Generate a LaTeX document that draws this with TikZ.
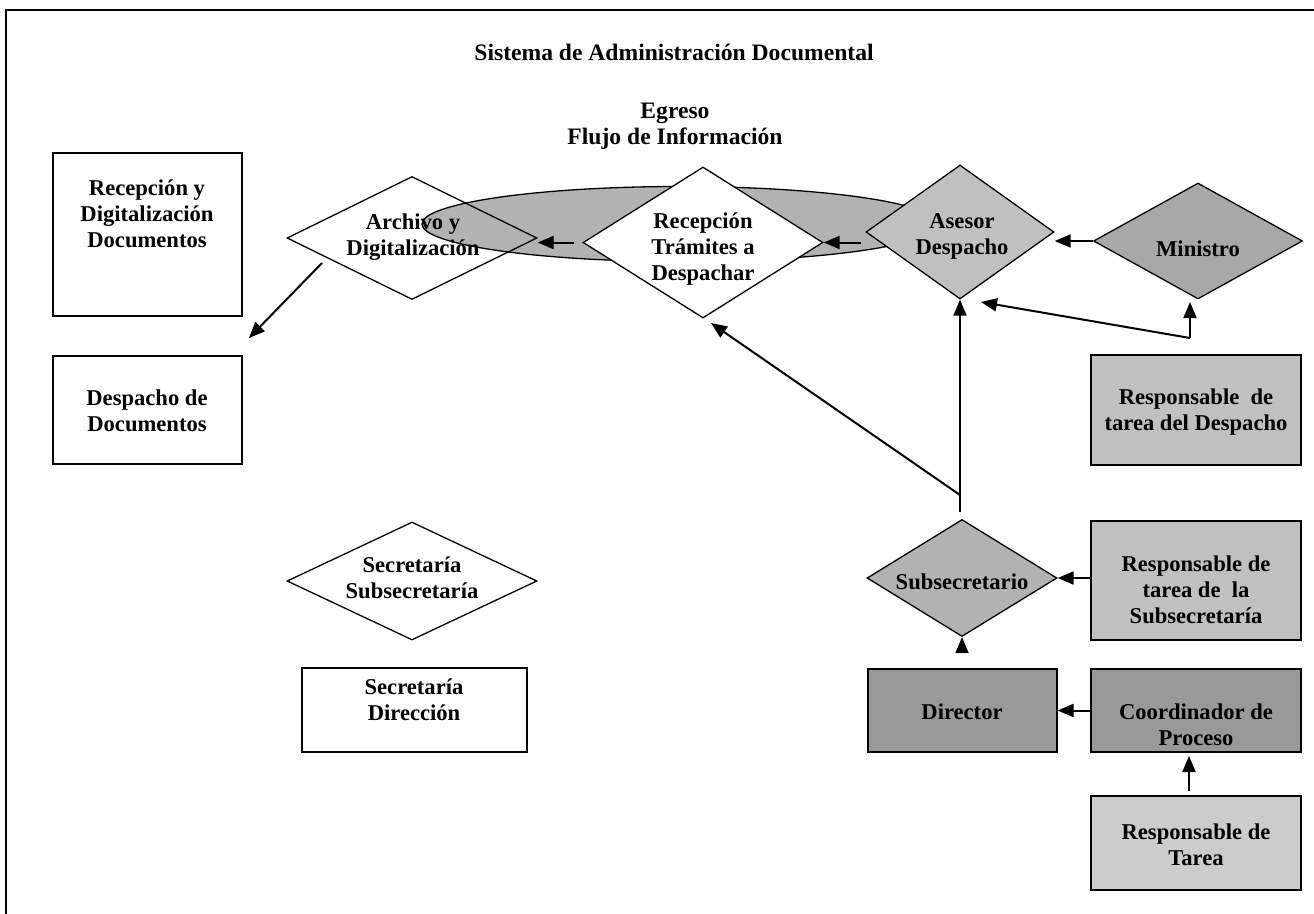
\documentclass[tikz,border=0pt]{standalone}
\usepackage{fontspec}
\setmainfont{Liberation Serif}
\usetikzlibrary{shapes.geometric,arrows.meta}
\definecolor{gA}{HTML}{C0C0C0}
\definecolor{gB}{HTML}{A8A8A8}
\definecolor{gC}{HTML}{B2B2B2}
\definecolor{gD}{HTML}{999999}
\definecolor{gE}{HTML}{CCCCCC}
\begin{document}
\begin{tikzpicture}[x=1pt,y=-1pt,
  txt/.style={font=\fontsize{22.6}{26}\selectfont\bfseries, align=center, inner sep=0pt},
  ttl/.style={font=\fontsize{23.6}{26}\selectfont\bfseries, align=center, inner sep=0pt},
  boxw/.style={draw, rectangle, line width=2pt, inner sep=0pt},
  dia/.style={draw, diamond, line width=1.3pt, inner sep=0pt},
  arr/.style={line width=2pt, -{Triangle[length=16pt,width=13pt]}}]
\useasboundingbox (0,0) rectangle (1314,913);
% frame
\draw[line width=2pt] (6,914) -- (6,10) -- (1315,10);
% ellipse and diamonds
\node[ellipse, draw, fill=gC, line width=1.3pt, inner sep=0pt, minimum width=516, minimum height=75] (ell) at (680,224) {};
\node[dia, minimum width=250, minimum height=123] (arch) at (412,238) {};
\node[dia, fill=white, minimum width=240, minimum height=151] (recep) at (703,242.5) {};
\node[dia, fill=gA, minimum width=188, minimum height=134] (ases) at (960,232) {};
\node[dia, fill=gB, minimum width=209, minimum height=116] (mini) at (1198,241) {};
\node[dia, fill=gC, minimum width=190, minimum height=117] (sub) at (962,578) {};
\node[dia, minimum width=250, minimum height=118] (secsub) at (412,581) {};
% boxes
\node[boxw, minimum width=189, minimum height=163] (recdig) at (147.5,234.5) {};
\node[boxw, minimum width=189, minimum height=108] (desp) at (147.5,410) {};
\node[boxw, minimum width=225, minimum height=84] (secdir) at (414.5,710) {};
\node[boxw, fill=gA, minimum width=210, minimum height=110] (rdesp) at (1196,410) {};
\node[boxw, fill=gA, minimum width=210, minimum height=119] (rsub) at (1196,580.5) {};
\node[boxw, fill=gD, minimum width=189, minimum height=83] (dir) at (962,710.5) {};
\node[boxw, fill=gD, minimum width=210, minimum height=83] (coord) at (1196,710.5) {};
\node[boxw, fill=gE, minimum width=210, minimum height=94] (rtar) at (1196,843) {};
% free ends
\coordinate (as) at (322,263);
\coordinate (dtip) at (249,338);
\coordinate (mk) at (1190,338);
\coordinate (mtip) at (1190,302);
\coordinate (atip) at (981,302);
\coordinate (jn) at (960,512);
\coordinate (jd) at (960,495);
\coordinate (rtip) at (711,323);
% connectors
\draw[arr] ([xshift=-8pt]recep.west) -- (arch.east |- recep.west);
\draw[arr] ([xshift=-4pt]ases.west |- recep.east) -- (recep.east);
\draw[arr] (mini.west) -- (ases.east |- mini.west);
\draw[arr] (mk) -- (mtip);
\draw[arr] (mk) -- (atip);
\draw[arr] (jn) -- (ases.south);
\draw[arr] (jd) -- (rtip);
\draw[arr] ([yshift=16pt]dir.north) -- (sub.south);
\draw[arr] (rsub.west |- sub.east) -- (sub.east);
\draw[arr] (coord.west) -- (dir.east);
\draw[arr] ([xshift=-7pt,yshift=4pt]rtar.north) -- ([xshift=-7pt,yshift=-3pt]coord.south);
\draw[arr] (as) -- (dtip);
% texts
\node[ttl] (title) at (674,52) {Sistema de Administración Documental};
\node[ttl] (egreso) at (675,126) {Egreso\\Flujo de Información};
\node[txt] (trecdig) at (147,214) {Recepción y\\Digitalización\\Documentos};
\node[txt] (tdesp) at (147,410.5) {Despacho de\\Documentos};
\node[txt] (tarch) at (413,237) {Archivo y\\Digitalización};
\node[txt] (trecep) at (703,249) {Recepción\\Trámites a\\Despachar};
\node[txt] (tases) at (962,236) {Asesor\\Despacho};
\node[txt] (tmini) at (1198,249) {Ministro};
\node[txt] (trdesp) at (1196,412.5) {Responsable~ de\\tarea del Despacho};
\node[txt] (tsub) at (962,582) {Subsecretario};
\node[txt] (trsub) at (1196,590) {Responsable de\\tarea de~ la\\Subsecretaría};
\node[txt] (tsecsub) at (412,578) {Secretaría\\Subsecretaría};
\node[txt] (tsecdir) at (414,700) {Secretaría\\Dirección};
\node[txt] (tdir) at (962,712) {Director};
\node[txt] (tcoord) at (1196,724.5) {Coordinador de\\Proceso};
\node[txt] (trtar) at (1196,844.5) {Responsable de\\Tarea};
\end{tikzpicture}
\end{document}
